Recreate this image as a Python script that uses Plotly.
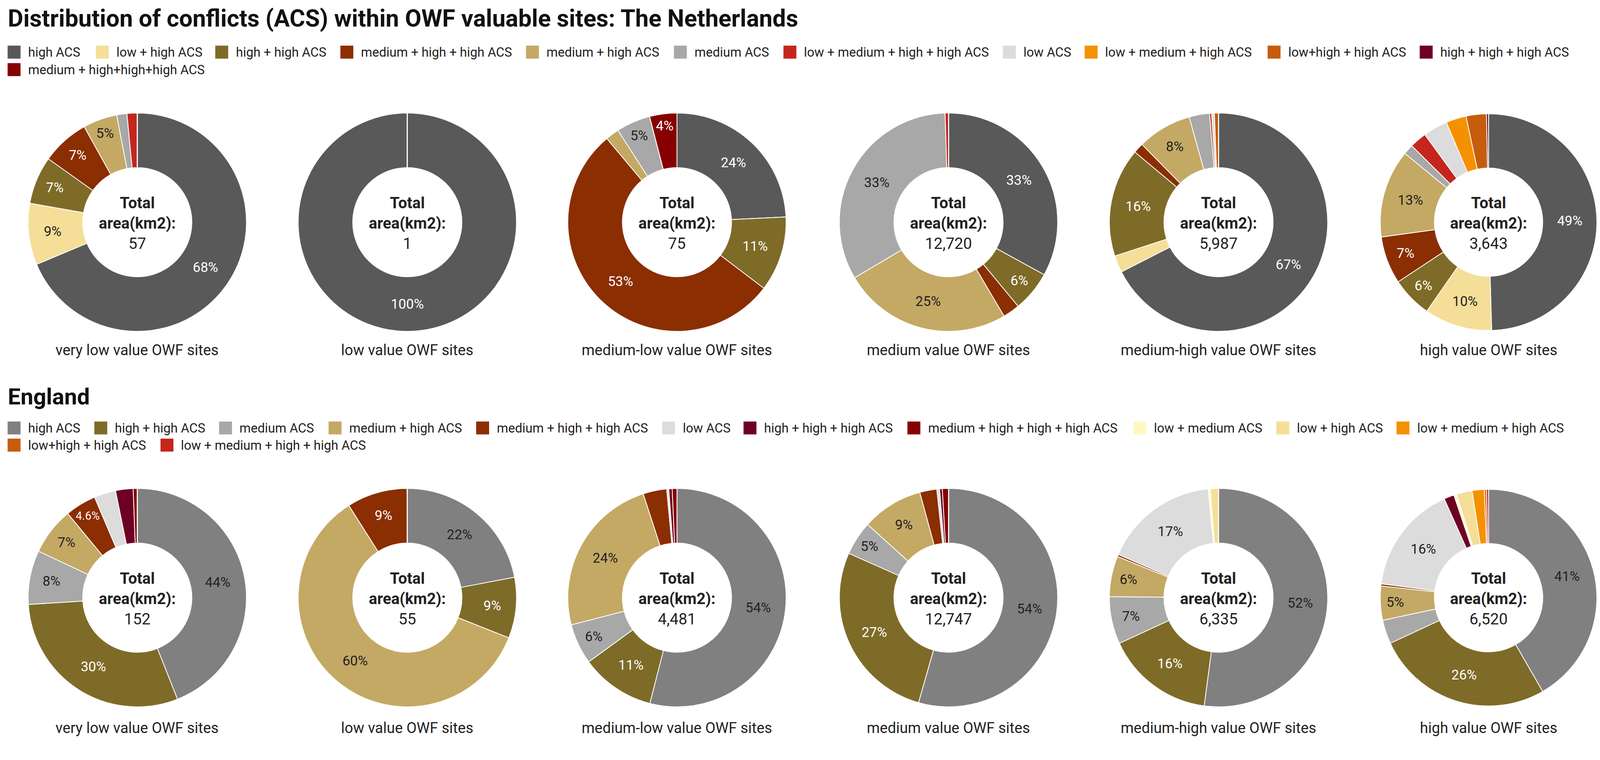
import plotly.graph_objects as go

# site classes (one donut each)
site_names = ["very low value OWF sites", "low value OWF sites", "medium-low value OWF sites",
              "medium value OWF sites", "medium-high value OWF sites", "high value OWF sites"]

# The Netherlands
nl_categories = ["high ACS", "low + high ACS", "high + high ACS", "medium + high + high ACS",
                 "medium + high ACS", "medium ACS", "low + medium + high + high ACS", "low ACS",
                 "low + medium + high ACS", "low+high + high ACS", "high + high + high ACS",
                 "medium + high+high+high ACS"]
nl_colors = ["#595959", "#f5de97", "#7f6b28", "#8b2e02", "#c4a964", "#a8a8a8", "#c4261d",
             "#dcdcdc", "#f59100", "#c55d0c", "#6e0023", "#870000"]
nl_totals = [57, 1, 75, 12720, 5987, 3643]
nl_very_low = [68, 9, 7, 7, 5, 1.5, 1.5, 0, 0, 0, 0, 0]
nl_low = [100, 0, 0, 0, 0, 0, 0, 0, 0, 0, 0, 0]
nl_medium_low = [24, 0, 11, 53, 2, 5, 0, 0, 0, 0, 0, 4]
nl_medium = [33, 0, 6, 2.5, 25, 33, 0.5, 0, 0, 0, 0, 0]
nl_medium_high = [67, 2.5, 16, 1.5, 8, 3, 0.3, 0.4, 0, 0.6, 0, 0]
nl_high = [49, 10, 6, 7, 13, 1.5, 2.5, 3.6, 3, 3, 0.3, 0]

# England
eng_categories = ["high ACS", "high + high ACS", "medium ACS", "medium + high ACS",
                  "medium + high + high ACS", "low ACS", "high + high + high ACS",
                  "medium + high + high + high ACS", "low + medium ACS", "low + high ACS",
                  "low + medium + high ACS", "low+high + high ACS", "low + medium + high + high ACS"]
eng_colors = ["#808080", "#7f6b28", "#a8a8a8", "#c4a964", "#8b2e02", "#dcdcdc", "#6e0023",
              "#870000", "#fff8c4", "#f5de97", "#f59100", "#c55d0c", "#c4261d"]
eng_totals = [152, 55, 4481, 12747, 6335, 6520]
eng_very_low = [44, 30, 8, 7, 4.6, 3.2, 2.6, 0.6, 0, 0, 0, 0, 0]
eng_low = [22, 9, 0, 60, 9, 0, 0, 0, 0, 0, 0, 0, 0]
eng_medium_low = [54, 11, 6, 24, 3.5, 0.3, 0.5, 0.7, 0, 0, 0, 0, 0]
eng_medium = [54, 27, 5, 9, 2.5, 0.4, 0.4, 0.9, 0, 0, 0, 0, 0]
eng_medium_high = [52, 16, 7, 6, 0.3, 17, 0, 0, 0.3, 1.2, 0, 0, 0]
eng_high = [41, 26, 3.5, 5, 0.3, 16, 1.5, 0, 0.4, 2.3, 1.8, 0.3, 0.3]

nl_shares = [nl_very_low, nl_low, nl_medium_low, nl_medium, nl_medium_high, nl_high]
eng_shares = [eng_very_low, eng_low, eng_medium_low, eng_medium, eng_medium_high, eng_high]

# colours on which the label is written in white
dark = {"#595959", "#7f6b28", "#8b2e02", "#c4261d", "#c55d0c", "#6e0023", "#870000"}

# page geometry: layout measured in reference pixels, page renders 4096 css px wide
S = 4207 / 4096
VW, VH, OFF = 4096, 1894, 8
W, H = VW - 2 * OFF, VH - 2 * OFF
FONT = "Roboto"
TXT = "#222222"


def fx(x):
    return (x / S - OFF) / W


def fy(y):
    return 1 - (y / S - OFF) / H


fig = go.Figure()
annotations = []
shapes = []

centers_x = [361, 1071, 1780, 2494, 3204, 3914]
R = 287


def add_row(shares, categories, colors, totals, cy, label_y):
    for i, vals in enumerate(shares):
        cx = centers_x[i]
        r = min(R, (W + OFF) * S - cx)
        texts = ["%g%%" % v if v >= 4 else "" for v in vals]
        tcolors = ["white" if c in dark else "#222222" for c in colors]
        fig.add_trace(go.Pie(
            labels=categories, values=vals, hole=0.5, sort=False, direction="clockwise",
            rotation=0, marker=dict(colors=colors, line=dict(color="white", width=2)),
            texttemplate=texts, textposition="inside", insidetextorientation="horizontal",
            textfont=dict(family=FONT, size=35, color=tcolors),
            title=dict(text="<b>Total<br>area(km2):</b><br>{:,}".format(totals[i]),
                       font=dict(family=FONT, size=40, color=TXT), position="middle center"),
            domain=dict(x=[fx(cx - r), fx(cx + r)], y=[fy(cy + r), fy(cy - r)]),
            showlegend=False, hoverinfo="label+percent"))
        annotations.append(dict(x=fx(cx), y=fy(label_y), xref="paper", yref="paper",
                                text=site_names[i], showarrow=False, xanchor="center",
                                yanchor="middle", font=dict(family=FONT, size=38, color=TXT)))


def add_legend(categories, colors, rows):
    # rows: list of (y, [swatch x positions]) in reference pixels
    k = 0
    for y, xs in rows:
        for x in xs:
            shapes.append(dict(type="rect", xref="paper", yref="paper",
                               x0=fx(x), x1=fx(x + 34), y0=fy(y + 17), y1=fy(y - 17),
                               fillcolor=colors[k], line=dict(width=0)))
            annotations.append(dict(x=fx(x + 52), y=fy(y), xref="paper", yref="paper",
                                    text=categories[k], showarrow=False, xanchor="left",
                                    yanchor="middle", font=dict(family=FONT, size=33, color=TXT)))
            k += 1


add_row(nl_shares, nl_categories, nl_colors, nl_totals, 584, 920)
add_row(eng_shares, eng_categories, eng_colors, eng_totals, 1571, 1914)

add_legend(nl_categories, nl_colors, [
    (137, [20, 252, 566, 895, 1383, 1772, 2060, 2637, 2852, 3333, 3733]),
    (183, [20]),
])
add_legend(eng_categories, eng_colors, [
    (1125, [20, 248, 576, 864, 1252, 1741, 1955, 2386, 2980, 3356, 3672]),
    (1170, [20, 422]),
])

annotations.append(dict(x=fx(18), y=fy(48), xref="paper", yref="paper",
                        text="<b>Distribution of conflicts (ACS) within OWF valuable sites: The Netherlands</b>",
                        showarrow=False, xanchor="left", yanchor="middle",
                        font=dict(family=FONT, size=61, color="#111111")))
annotations.append(dict(x=fx(18), y=fy(1042), xref="paper", yref="paper",
                        text="<b>England</b>", showarrow=False, xanchor="left", yanchor="middle",
                        font=dict(family=FONT, size=58, color="#111111")))

fig.update_layout(width=W, height=H, margin=dict(l=0, r=0, t=0, b=0),
                  paper_bgcolor="white", plot_bgcolor="white",
                  annotations=annotations, shapes=shapes)

fig.write_html("out.html")
